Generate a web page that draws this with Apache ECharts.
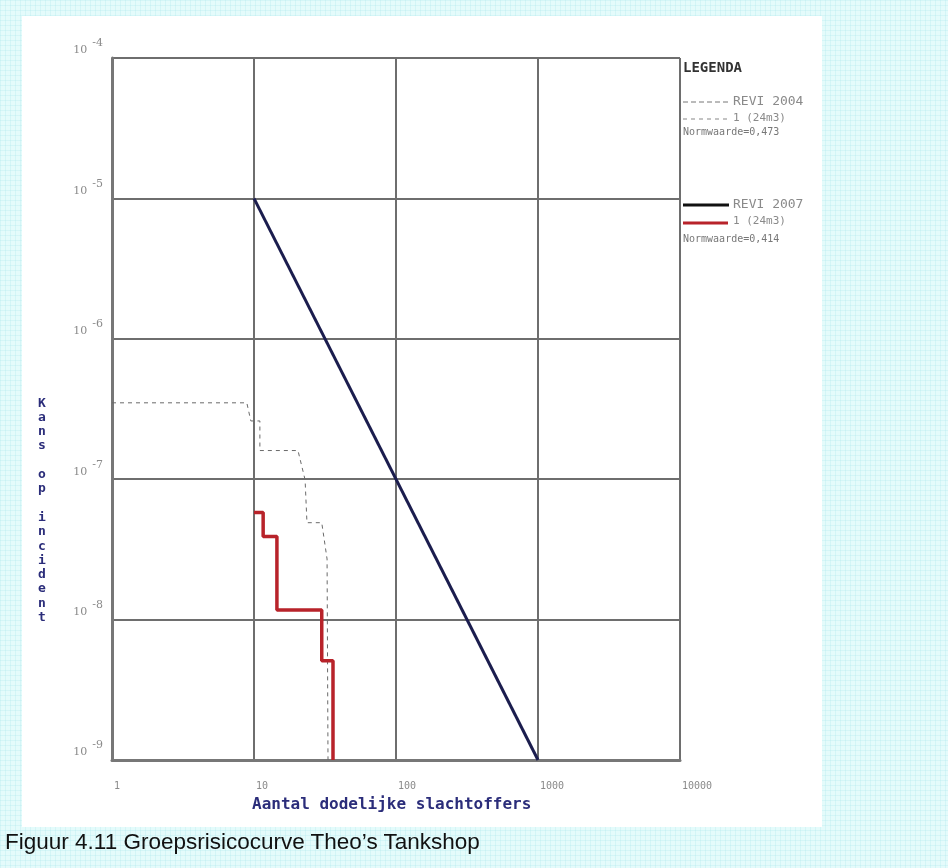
<!DOCTYPE html>
<html>
<head>
<meta charset="utf-8">
<title>Groepsrisicocurve Theo's Tankshop</title>
<script src="https://cdn.jsdelivr.net/npm/echarts@6/dist/echarts.min.js"></script>
<style>
  html, body {
    margin: 0;
    padding: 0;
    width: 948px;
    height: 868px;
    overflow: hidden;
    background-color: #e4fbfb;
    background-image:
      linear-gradient(to right, rgba(175, 232, 238, 0.3) 1px, transparent 1px),
      linear-gradient(to bottom, rgba(175, 232, 238, 0.3) 1px, transparent 1px);
    background-size: 5px 5px;
  }
  #panel {
    position: absolute;
    left: 22px;
    top: 16px;
    width: 800px;
    height: 811px;
    background: #ffffff;
  }
  #chart {
    position: absolute;
    left: 0;
    top: 0;
    width: 948px;
    height: 868px;
  }
  #caption {
    position: absolute;
    left: 5px;
    top: 829px;
    font-family: "Liberation Sans", Arial, sans-serif;
    font-size: 22.5px;
    line-height: 26px;
    color: #111;
  }
</style>
</head>
<body>
<div id="panel"></div>
<div id="chart"></div>
<div id="caption">Figuur 4.11 Groepsrisicocurve Theo’s Tankshop</div>
<script>
  // aantal doden (N) en kans (F) per curve
  const revi2004N = [1, 8.9, 9.5, 11, 11, 20.4, 22.9, 23.6, 30, 32.7, 33.2];
  const revi2004P = [3.5e-7, 3.5e-7, 2.6e-7, 2.6e-7, 1.6e-7, 1.6e-7, 9.9e-8, 4.9e-8, 4.9e-8, 2.7e-8, 1e-9];
  const revi2007N = [10, 11.6, 11.6, 14.5, 14.5, 30, 30, 36, 36];
  const revi2007P = [5.8e-8, 5.8e-8, 3.9e-8, 3.9e-8, 1.17e-8, 1.17e-8, 5.1e-9, 5.1e-9, 1e-9];
  const normN = [10, 1000];
  const normP = [1e-5, 1e-9];
  const xTicks = [1, 10, 100, 1000, 10000];

  const zip = (xs, ys) => xs.map((x, i) => [x, ys[i]]);

  const chart = echarts.init(document.getElementById('chart'), null, { renderer: 'canvas' });

  const mono = '"DejaVu Sans Mono", "Liberation Mono", monospace';
  const legendText = '#8a8a8a';

  const option = {
    backgroundColor: 'transparent',
    animation: false,
    grid: {
      left: 112,
      top: 58,
      width: 568,
      height: 702,
      containLabel: false
    },
    xAxis: {
      type: 'log',
      logBase: 10,
      min: 1,
      max: 10000,
      axisLine: { show: true, lineStyle: { color: '#777', width: 3 } },
      axisTick: { show: false },
      splitLine: { show: true, lineStyle: { color: '#6e6e6e', width: 2 } },
      axisLabel: {
        margin: 21,
        color: '#8a8a8a',
        fontFamily: mono,
        fontSize: 10,
        align: 'left',
        padding: [0, 0, 0, 2],
        formatter: (v) => (xTicks.includes(Math.round(v)) ? String(Math.round(v)) : '')
      }
    },
    yAxis: {
      type: 'log',
      logBase: 10,
      min: 1e-9,
      max: 1e-4,
      axisLine: { show: true, lineStyle: { color: '#777', width: 3 } },
      axisTick: { show: false },
      splitLine: { show: true, lineStyle: { color: '#6e6e6e', width: 2 } },
      axisLabel: {
        margin: 9,
        verticalAlign: 'bottom',
        formatter: (v) => {
          const exp = Math.round(Math.log10(v));
          return '{b|10}{e|' + exp + '}';
        },
        rich: {
          b: { fontFamily: 'DejaVu Serif, serif', fontSize: 11, color: '#8a8a8a', lineHeight: 20, verticalAlign: 'bottom', padding: [0, 5, 2, 0] },
          e: { fontFamily: 'DejaVu Serif, serif', fontSize: 11, color: '#8a8a8a', lineHeight: 20, verticalAlign: 'top' }
        }
      }
    },
    series: [
      {
        name: 'REVI 2004',
        type: 'line',
        data: zip(revi2004N, revi2004P),
        symbol: 'none',
        lineStyle: { color: '#6a6a6a', width: 1, type: [4, 4] },
        z: 3
      },
      {
        name: 'REVI 2007',
        type: 'line',
        data: zip(revi2007N, revi2007P),
        symbol: 'none',
        lineStyle: { color: '#b8232a', width: 3.5 },
        z: 4
      },
      {
        name: 'Normwaarde',
        type: 'line',
        data: zip(normN, normP),
        symbol: 'none',
        lineStyle: { color: '#1b1d4e', width: 3 },
        z: 5
      }
    ],
    graphic: [
      // y-as titel, letters onder elkaar
      {
        type: 'text',
        left: 38,
        top: 396,
        style: {
          text: 'Kans op incident'.split('').join('\n'),
          font: 'bold 13px ' + mono,
          fill: '#2b2d7a',
          lineHeight: 14.3,
          align: 'center'
        }
      },
      // x-as titel
      {
        type: 'text',
        left: 252,
        top: 797,
        style: {
          text: 'Aantal dodelijke slachtoffers',
          font: 'bold 16px ' + mono,
          fill: '#2b2d7a'
        }
      },
      // legenda
      {
        type: 'text', left: 683, top: 61,
        style: { text: 'LEGENDA', font: 'bold 14px ' + mono, fill: '#333' }
      },
      {
        type: 'line', shape: { x1: 683, y1: 102, x2: 728, y2: 102 },
        style: { stroke: '#777', lineWidth: 1, lineDash: [5, 3] }
      },
      {
        type: 'text', left: 733, top: 95,
        style: { text: 'REVI 2004', font: '13px ' + mono, fill: legendText }
      },
      {
        type: 'line', shape: { x1: 683, y1: 119, x2: 728, y2: 119 },
        style: { stroke: '#888', lineWidth: 1, lineDash: [4, 4] }
      },
      {
        type: 'text', left: 733, top: 113,
        style: { text: '1 (24m3)', font: '11px ' + mono, fill: legendText }
      },
      {
        type: 'text', left: 683, top: 127,
        style: { text: 'Normwaarde=0,473', font: '10px ' + mono, fill: '#777' }
      },
      {
        type: 'line', shape: { x1: 683, y1: 205, x2: 729, y2: 205 },
        style: { stroke: '#111', lineWidth: 3 }
      },
      {
        type: 'text', left: 733, top: 198,
        style: { text: 'REVI 2007', font: '13px ' + mono, fill: legendText }
      },
      {
        type: 'line', shape: { x1: 683, y1: 223, x2: 728, y2: 223 },
        style: { stroke: '#b8232a', lineWidth: 3 }
      },
      {
        type: 'text', left: 733, top: 216,
        style: { text: '1 (24m3)', font: '11px ' + mono, fill: legendText }
      },
      {
        type: 'text', left: 683, top: 234,
        style: { text: 'Normwaarde=0,414', font: '10px ' + mono, fill: '#777' }
      }
    ]
  };

  chart.setOption(option);
</script>
</body>
</html>
